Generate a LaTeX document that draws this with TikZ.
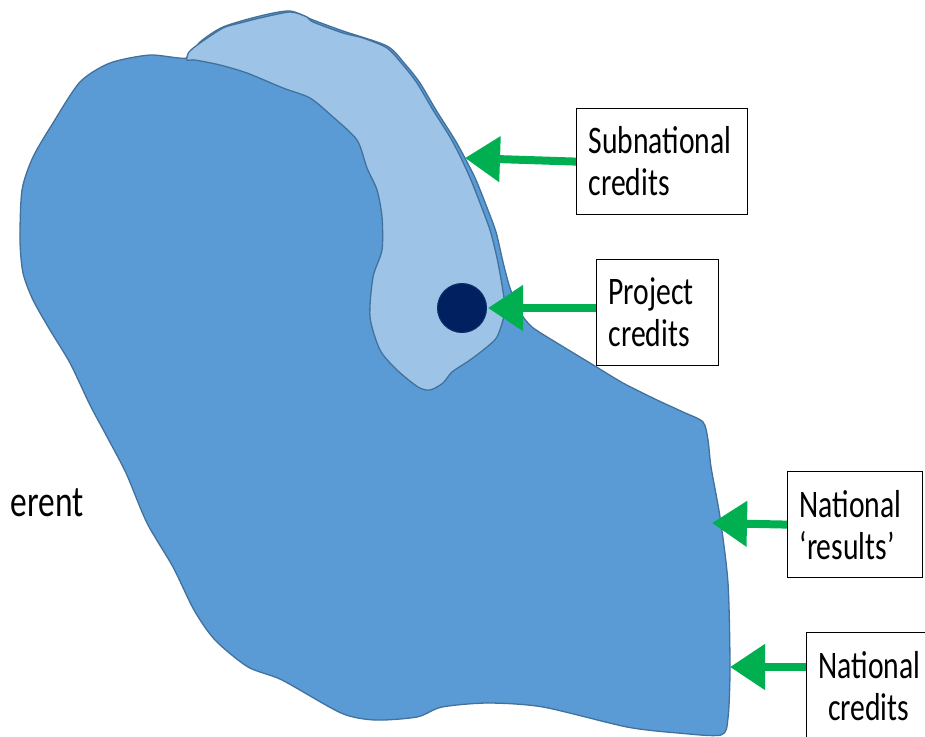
\documentclass[tikz,border=0pt]{standalone}
\usepackage{fontspec}
\setmainfont{Carlito}[FakeStretch=0.76]
\usepackage{tikz}
\definecolor{bb}{RGB}{91,155,213}
\definecolor{ll}{RGB}{157,195,230}
\definecolor{ee}{RGB}{65,113,156}
\definecolor{nn}{RGB}{0,32,96}
\definecolor{gg}{RGB}{0,176,80}
\usetikzlibrary{positioning,arrows.meta}
\def\boxh{106pt}
\tikzset{
	credbox/.style={draw=black,line width=1.2pt,fill=white,inner xsep=12pt,inner ysep=0pt,
		minimum height=\boxh,anchor=north west,font=\fontsize{39}{42}\selectfont},
	greenarrow/.style={-{Triangle[length=35pt,width=44pt]},line width=8pt,color=gg},
	darkblob/.style={draw=ee,line width=1.3pt,fill=bb,line join=round},
	lightblob/.style={draw=ee,line width=1.3pt,fill=ll,line join=round}
}

\begin{document}
\begin{tikzpicture}[x=1pt,y=-1pt]
\useasboundingbox (0,0) rectangle (925,736);

% national area
\draw[darkblob] plot[smooth cycle,tension=0.45] coordinates {
	(20,240) (22,190) (33,157) (53,123) (80,82) (110,63) (150,55) (187,58)
	(200,42) (223,27) (260,16) (290,11) (313,20) (343,31) (387,46) (405,64)
	(420,83) (436,110) (455,140) (466,160) (476,180) (486,205) (496,232)
	(503,262) (510,288) (520,312) (532,327) (557,343) (590,363) (623,383)
	(657,400) (683,412) (703,422) (708,440) (711,467) (720,517) (728,583)
	(730,667) (728,718) (721,735) (678,733) (627,727) (543,707) (488,703)
	(442,707) (417,717) (375,720) (341,713) (282,680) (248,667) (215,640)
	(194,610) (173,567) (147,523) (126,473) (105,433) (90,405) (70,363)
	(50,330) (33,300) (23,273)};

% subnational area
\draw[lightblob] plot[smooth cycle,tension=0.45] coordinates {
	(187,60) (189,52) (200,43) (223,28) (240,23) (260,18) (290,12) (307,17)
	(313,22) (343,33) (363,38) (387,48) (403,65) (417,83) (433,110) (450,137)
	(461,158) (471,180) (480,203) (490,230) (497,258) (502,285) (505,307)
	(503,320) (497,337) (487,347) (470,360) (452,372) (443,383) (430,390)
	(418,387) (397,370) (380,350) (370,317) (373,277) (382,250) (382,217)
	(377,190) (367,168) (357,140) (333,117) (310,98) (283,88) (247,73)
	(220,65) (195,60)};

% project
\node[circle,fill=nn,draw=nn!80!ee,line width=1pt,minimum size=49pt,inner sep=0pt] (proj dot) at (462,308) {};

\node[anchor=base east,font=\fontsize{44}{48}\selectfont] (dif) at (87,516) {erent};

\node[credbox,text width=147pt,align=left] (sub) at (576,108) {Subnational\\credits};
\node[credbox,text width=98pt,align=left] (proj) at (596,259) {Project\\credits};
\node[credbox,text width=111pt,align=left] (res) at (787,471) {National\\‘results’};
\node[credbox,text width=100pt,align=center] (ncred) at (806,632) {National\\credits};

\coordinate (subtip) at (465,158);
\coordinate (projtip) at (488,308);
\coordinate (restip) at (712,523);
\coordinate (ncredtip) at (730,667);

\draw[greenarrow] (sub.west) -- (subtip);
\draw[greenarrow] (proj.west |- projtip) -- (projtip);
\draw[greenarrow] (res.west) -- (restip);
\draw[greenarrow] (ncred.west |- ncredtip) -- (ncredtip);
\end{tikzpicture}
\end{document}
